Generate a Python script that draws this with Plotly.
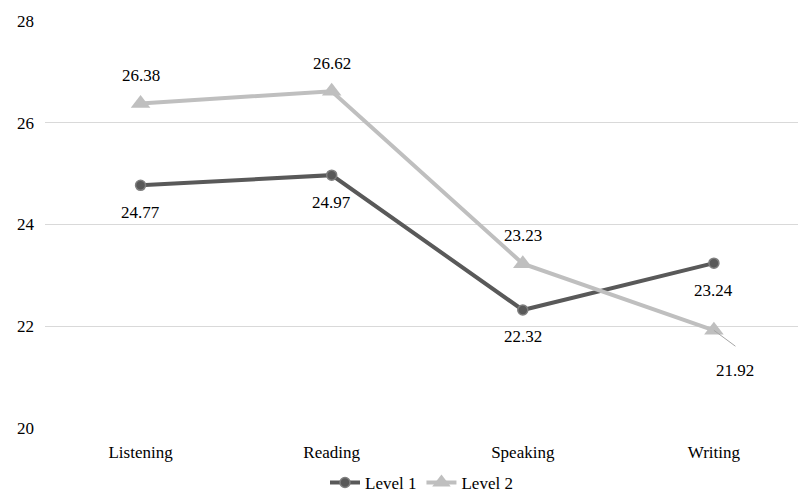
import plotly.graph_objects as go

skills = ["Listening", "Reading", "Speaking", "Writing"]
level1 = [24.77, 24.97, 22.32, 23.24]
level2 = [26.38, 26.62, 23.23, 21.92]
y_ticks = [20, 22, 24, 26, 28]

# label offsets in pixels (dx, dy) for each point's value label
level1_offsets = [(0, -27), (0, -27), (0, -27), (0, -27)]
level2_offsets = [(0, 28), (0, 28), (0, 28), (21, -40)]

FONT = "Times New Roman, Liberation Serif, DejaVu Serif, serif"
C1 = "#595959"
C2 = "#bfbfbf"

fig = go.Figure()
fig.add_trace(go.Scatter(
    x=skills, y=level1, name="Level 1", mode="lines+markers",
    line=dict(color=C1, width=4),
    marker=dict(symbol="circle", size=10, color=C1,
                line=dict(color="#7f7f7f", width=1.5)),
))
fig.add_trace(go.Scatter(
    x=skills, y=level2, name="Level 2", mode="lines+markers",
    line=dict(color=C2, width=4),
    marker=dict(symbol="triangle-up", size=17, color=C2,
                line=dict(width=0)),
))

annotations = []
for xs, ys, offs in ((skills, level1, level1_offsets), (skills, level2, level2_offsets)):
    for x, y, (dx, dy) in zip(xs, ys, offs):
        annotations.append(dict(
            x=x, y=y, text=f"{y:.2f}", showarrow=False,
            xshift=dx, yshift=dy,
            font=dict(family=FONT, size=17, color="#000000"),
        ))

# leader line for the Writing / Level 2 label
annotations.append(dict(
    x=skills[3], y=level2[3], ax=23, ay=17, axref="pixel", ayref="pixel",
    text="", showarrow=True, arrowhead=0, arrowwidth=1, arrowcolor="#a6a6a6",
    standoff=0, startstandoff=0,
))

fig.update_layout(
    width=799, height=502,
    margin=dict(l=45, r=1, t=21, b=71),
    paper_bgcolor="white", plot_bgcolor="white",
    font=dict(family=FONT, size=17, color="#000000"),
    showlegend=True,
    legend=dict(orientation="h", x=0.5, xanchor="center", y=-0.135, yanchor="middle",
                font=dict(family=FONT, size=17), tracegroupgap=0),
    annotations=annotations,
    xaxis=dict(
        type="category", range=[-0.5, 3.44], showgrid=False, showline=False,
        ticks="", tickfont=dict(family=FONT, size=17), zeroline=False,
        ticklabelstandoff=12,
    ),
    yaxis=dict(
        range=[20, 28], tickvals=y_ticks, showgrid=True, gridcolor="#d9d9d9",
        gridwidth=1, zeroline=False, showline=False, ticks="",
        tickfont=dict(family=FONT, size=17), ticklabelstandoff=10,
    ),
)

fig.write_html("out.html")
